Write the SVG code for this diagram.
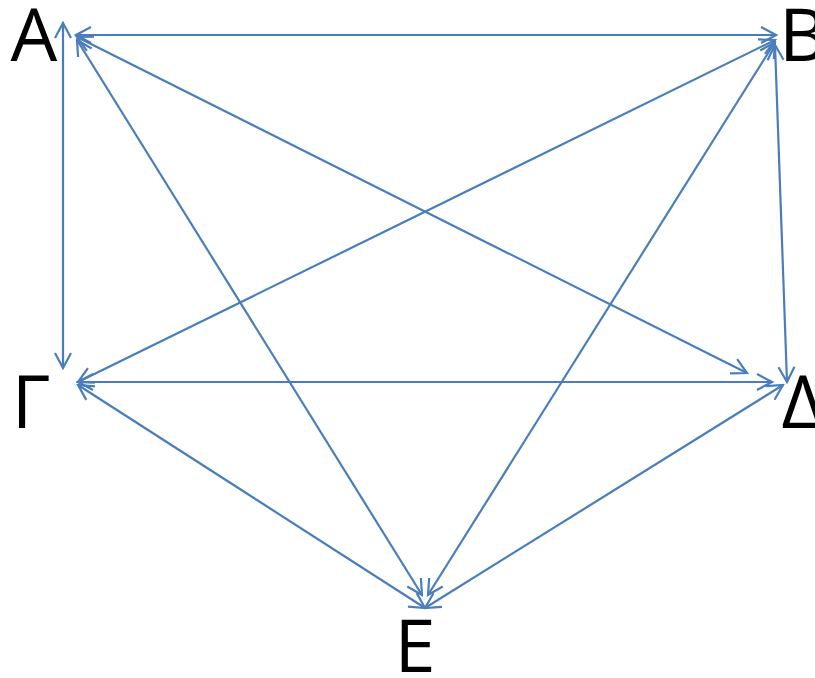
<svg xmlns="http://www.w3.org/2000/svg" width="815" height="678" viewBox="0 0 815 678">
<style>
.lbl{font-family:"Open Sans","Liberation Sans",sans-serif;font-size:74px;fill:#000;text-anchor:middle}
.e{stroke:#4A7EBB;stroke-width:2.2;fill:none;marker-start:url(#arr);marker-end:url(#arr)}
</style>
<defs>
<marker id="arr" markerUnits="userSpaceOnUse" viewBox="-17 -10 19 20" refX="0" refY="0" markerWidth="19" markerHeight="20" orient="auto-start-reverse">
<path d="M-15,-8 L0,0 L-15,8" fill="none" stroke="#4A7EBB" stroke-width="2.2"/>
</marker>
</defs>
<rect width="815" height="678" fill="#fff"/>
<g id="edges">
<line class="e" x1="63" y1="23" x2="63" y2="368"/>
<line class="e" x1="76" y1="35" x2="776" y2="35"/>
<line class="e" x1="77" y1="37" x2="747" y2="373"/>
<line class="e" x1="77" y1="40" x2="422" y2="595"/>
<line class="e" x1="775" y1="40" x2="78" y2="382"/>
<line class="e" x1="775" y1="42" x2="428" y2="595"/>
<line class="e" x1="775" y1="45" x2="787" y2="382"/>
<line class="e" x1="78" y1="382" x2="772" y2="382"/>
<line class="e" x1="78" y1="385" x2="425" y2="608"/>
<line class="e" x1="783" y1="385" x2="425" y2="608"/>
</g>
<g id="A"><text class="lbl" x="34" y="61">A</text></g>
<g id="B"><text class="lbl" x="803" y="61">B</text></g>
<g id="G"><text class="lbl" x="31" y="428">Γ</text></g>
<g id="D"><text class="lbl" x="803" y="428">Δ</text></g>
<g id="E"><text class="lbl" x="415" y="672">E</text></g>
</svg>
